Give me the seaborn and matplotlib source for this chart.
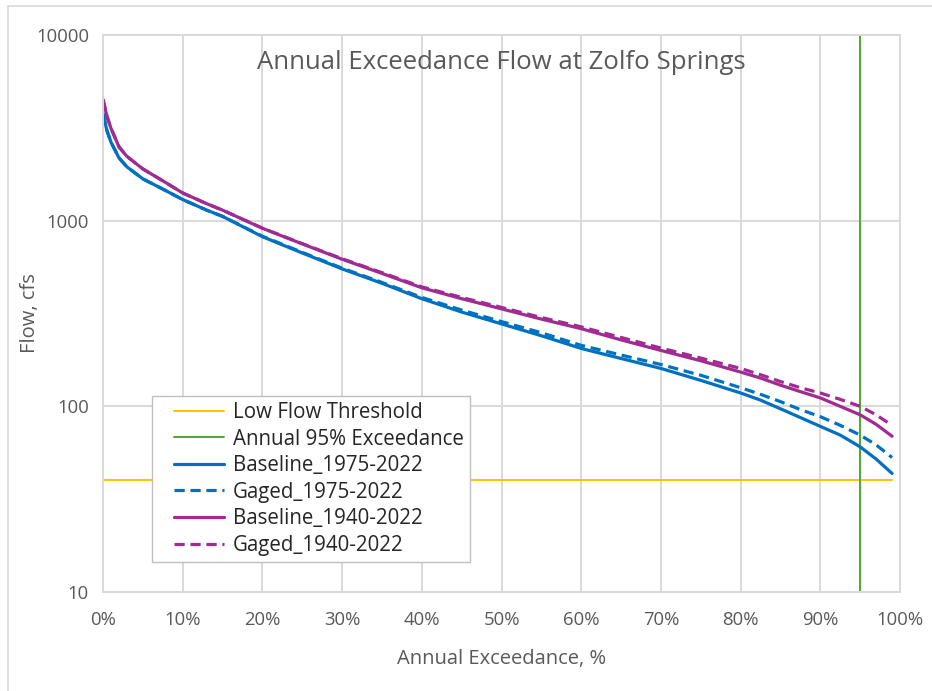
import pandas as pd
import seaborn as sns
import matplotlib.pyplot as plt
from matplotlib.ticker import PercentFormatter, FixedLocator, FixedFormatter, NullLocator
from matplotlib.lines import Line2D
from matplotlib.legend_handler import HandlerLine2D

# exceedance, %
exceedance = [0, 0.5, 1, 2, 3, 5, 7.5, 10, 13, 15, 20, 25, 30, 35, 40, 45, 50, 55,
              60, 65, 70, 75, 80, 82.5, 85, 87.5, 90, 92.5, 95, 97, 99]

# flow, cfs
baseline_1975 = [3780, 3050, 2650, 2180, 1950, 1680, 1480, 1300, 1140, 1055, 820, 670,
                 550, 460, 380, 322, 278, 240, 205, 181, 160, 138, 118, 108, 97,
                 87, 78, 70, 60.5, 52, 43.5]
gaged_1975 = [3780, 3050, 2650, 2180, 1950, 1680, 1480, 1300, 1140, 1055, 825, 675,
              555, 465, 386, 330, 286, 249, 213, 189, 168, 147, 126, 116, 106,
              96, 88, 79, 70, 62, 53]
baseline_1940 = [4500, 3650, 3150, 2500, 2220, 1900, 1640, 1410, 1235, 1140, 910, 750,
                 620, 520, 435, 380, 335, 295, 262, 228, 200, 176, 153, 142, 130,
                 120, 111, 100, 90, 80, 69]
gaged_1940 = [4500, 3650, 3150, 2500, 2220, 1900, 1640, 1410, 1235, 1140, 912, 752,
              624, 525, 440, 386, 341, 301, 268, 235, 206, 182, 160, 148, 136,
              126, 118, 109, 100, 90, 79]

low_flow_threshold = 40
annual_95 = 95

series_names = ["Baseline_1975-2022", "Gaged_1975-2022",
                "Baseline_1940-2022", "Gaged_1940-2022"]
series_values = [baseline_1975, gaged_1975, baseline_1940, gaged_1940]

df = pd.concat([pd.DataFrame({"exceedance": exceedance, "flow": v, "series": n})
                for n, v in zip(series_names, series_values)], ignore_index=True)

sns.set_theme(style="white")
plt.rcParams["font.family"] = ["Open Sans", "DejaVu Sans"]

fig = plt.figure(figsize=(9.32, 6.91), dpi=100)
ax = fig.add_axes([0.1105, 0.1433, 0.8552, 0.806])

grid_c = "#D9D9D9"
text_c = "#595959"

# threshold + 95% line
sns.lineplot(x=[exceedance[0], exceedance[-1]], y=[low_flow_threshold] * 2,
             color="#FFC000", linewidth=1.4, ax=ax, label="Low Flow Threshold")
ax.axvline(annual_95, color="#4EA72E", linewidth=1.4, label="Annual 95% Exceedance")

palette = {"Baseline_1975-2022": "#0070C0", "Gaged_1975-2022": "#0070C0",
           "Baseline_1940-2022": "#A02B93", "Gaged_1940-2022": "#A02B93"}
dashes = {"Baseline_1975-2022": "", "Gaged_1975-2022": (3.2, 1.8),
          "Baseline_1940-2022": "", "Gaged_1940-2022": (3.2, 1.8)}
sns.lineplot(data=df, x="exceedance", y="flow", hue="series", style="series",
             palette=palette, dashes=dashes, linewidth=2.3, ax=ax)

ax.set_yscale("log")
ax.set_ylim(10, 10000)
ax.set_xlim(0, 100)
ax.yaxis.set_major_locator(FixedLocator([10, 100, 1000, 10000]))
ax.yaxis.set_major_formatter(FixedFormatter(["10", "100", "1000", "10000"]))
ax.yaxis.set_minor_locator(NullLocator())
ax.set_xticks(range(0, 101, 10))
ax.xaxis.set_major_formatter(PercentFormatter(decimals=0))

ax.grid(True, which="major", color=grid_c, linewidth=1.4)
ax.set_axisbelow(True)
for s in ax.spines.values():
    s.set_color(grid_c)
    s.set_linewidth(1.4)
ax.tick_params(axis="x", length=0, labelsize=13.3, labelcolor=text_c, pad=14)
ax.tick_params(axis="y", length=0, labelsize=13.3, labelcolor=text_c, pad=10)

ax.set_xlabel("Annual Exceedance, %", fontsize=14.5, color=text_c, labelpad=14)
ax.set_ylabel("Flow, cfs", fontsize=14.5, color=text_c, labelpad=-3)
ax.text(0.5, 0.95, "Annual Exceedance Flow at Zolfo Springs", transform=ax.transAxes,
        ha="center", va="center", fontsize=18.5, color=text_c)

handles, labels = ax.get_legend_handles_labels()
ax.legend(handles, labels, loc="lower left", bbox_to_anchor=(0.0615, 0.054),
          borderaxespad=0, fontsize=14.8, frameon=True, fancybox=False,
          edgecolor="#BFBFBF", facecolor="white", framealpha=1, handlelength=3.2,
          labelspacing=0.27, borderpad=0.3, handletextpad=0.45, title=None,
          handler_map={Line2D: HandlerLine2D(xpad=0.75)})

# chart-area border
fig.add_artist(Line2D([0.009, 0.009], [0.0, 0.992], color=grid_c, linewidth=1.2,
                      transform=fig.transFigure))
fig.add_artist(Line2D([0.009, 1.0], [0.992, 0.992], color=grid_c, linewidth=1.2,
                      transform=fig.transFigure))

fig.savefig("out.png", dpi=100)
